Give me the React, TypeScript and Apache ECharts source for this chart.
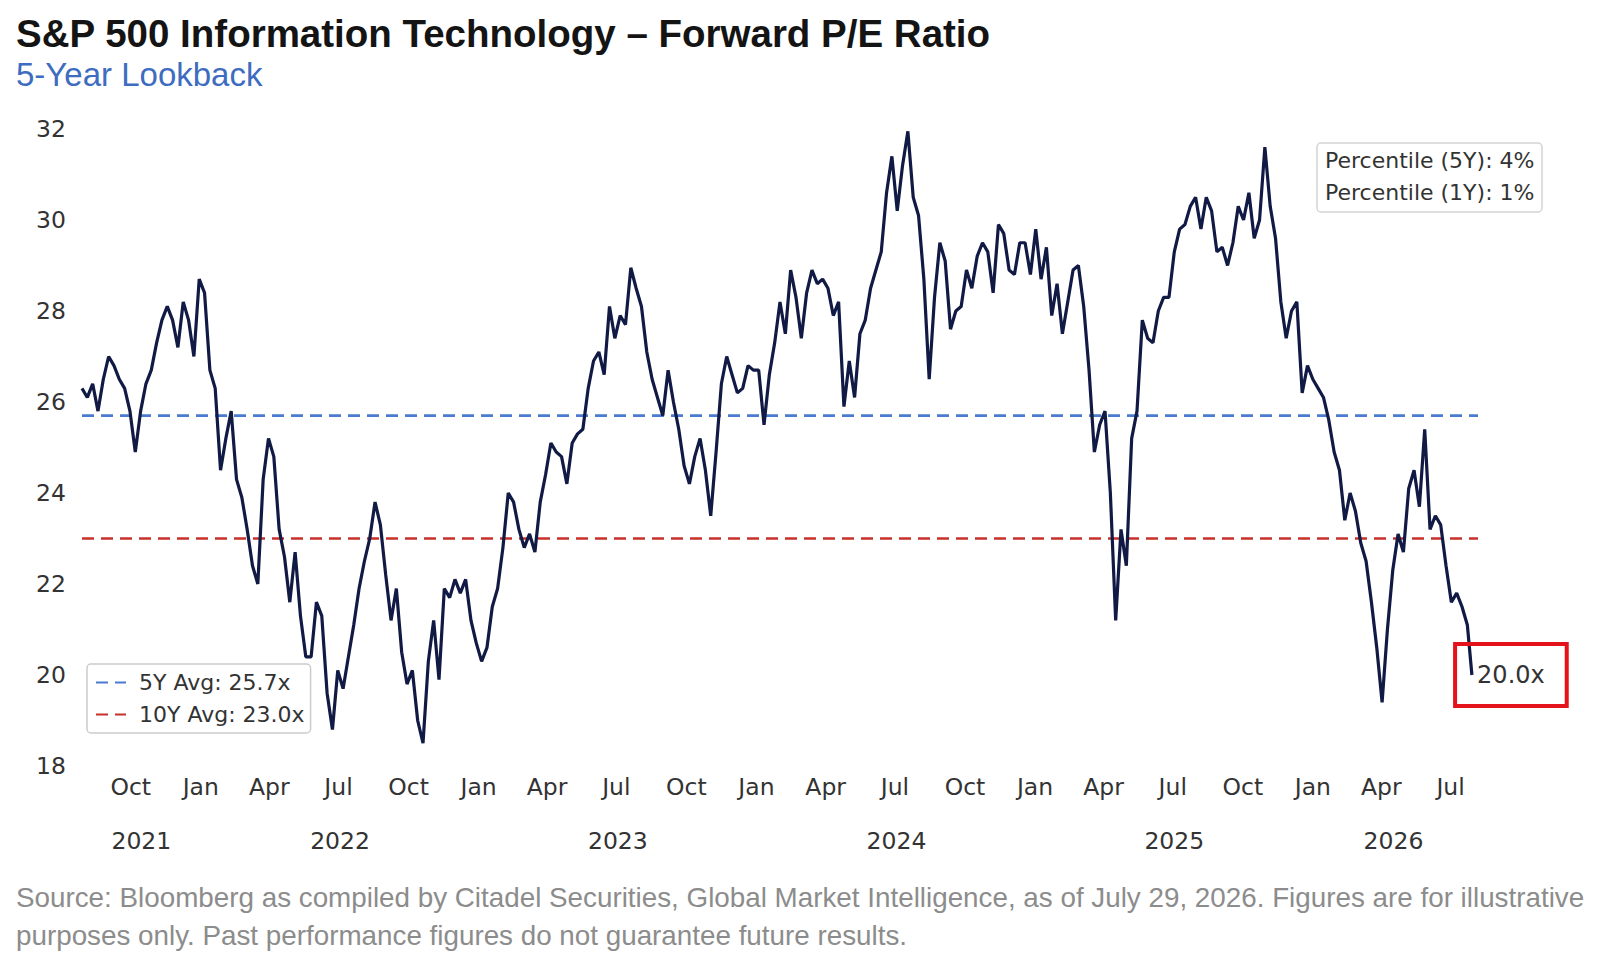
import { useEffect, useRef } from 'react';
import * as echarts from 'echarts';

const START_DATE = '2021-07-29';
const END_DATE = '2026-07-29';
const AXIS_MAX = '2026-08-06';

// weekly forward P/E readings from START_DATE; the last one is END_DATE
const forwardPE = [
  26.3, 26.1, 26.4, 25.8, 26.5, 27.0, 26.8, 26.5, 26.3, 25.8,
  24.9, 25.8, 26.4, 26.7, 27.3, 27.8, 28.1, 27.8, 27.2, 28.2,
  27.8, 27.0, 28.7, 28.4, 26.7, 26.3, 24.5, 25.2, 25.8, 24.3,
  23.9, 23.2, 22.4, 22.0, 24.3, 25.2, 24.8, 23.2, 22.6, 21.6,
  22.7, 21.3, 20.4, 20.4, 21.6, 21.3, 19.6, 18.8, 20.1, 19.7,
  20.4, 21.1, 21.9, 22.5, 23.0, 23.8, 23.3, 22.2, 21.2, 21.9,
  20.5, 19.8, 20.1, 19.0, 18.5, 20.3, 21.2, 19.9, 21.9, 21.7,
  22.1, 21.8, 22.1, 21.2, 20.7, 20.3, 20.6, 21.5, 21.9, 22.8,
  24.0, 23.8, 23.2, 22.8, 23.1, 22.7, 23.8, 24.4, 25.1, 24.9,
  24.8, 24.2, 25.1, 25.3, 25.4, 26.3, 26.9, 27.1, 26.6, 28.1,
  27.4, 27.9, 27.7, 28.95, 28.5, 28.1, 27.1, 26.5, 26.1, 25.7,
  26.7, 26.0, 25.4, 24.6, 24.2, 24.8, 25.2, 24.5, 23.5, 24.9,
  26.4, 27.0, 26.6, 26.2, 26.3, 26.8, 26.7, 26.7, 25.5, 26.6,
  27.3, 28.2, 27.5, 28.9, 28.3, 27.4, 28.4, 28.9, 28.6, 28.7,
  28.5, 27.9, 28.2, 25.9, 26.9, 26.1, 27.5, 27.8, 28.5, 28.9,
  29.3, 30.6, 31.4, 30.2, 31.2, 31.95, 30.5, 30.1, 28.7, 26.5,
  28.3, 29.5, 29.1, 27.6, 28.0, 28.1, 28.9, 28.5, 29.2, 29.5,
  29.3, 28.4, 29.9, 29.7, 28.9, 28.8, 29.5, 29.5, 28.8, 29.8,
  28.7, 29.4, 27.9, 28.6, 27.5, 28.2, 28.9, 29.0, 28.1, 26.7,
  24.9, 25.5, 25.8, 24.0, 21.2, 23.2, 22.4, 25.2, 25.8, 27.8,
  27.4, 27.3, 28.0, 28.3, 28.3, 29.3, 29.8, 29.9, 30.3, 30.5,
  29.8, 30.5, 30.2, 29.3, 29.4, 29.0, 29.5, 30.3, 30.0, 30.6,
  29.6, 30.0, 31.6, 30.3, 29.6, 28.2, 27.4, 28.0, 28.2, 26.2,
  26.8, 26.5, 26.3, 26.1, 25.6, 24.9, 24.5, 23.4, 24.0, 23.6,
  22.9, 22.5, 21.6, 20.6, 19.4, 21.0, 22.3, 23.1, 22.7, 24.1,
  24.5, 23.7, 25.4, 23.2, 23.5, 23.3, 22.4, 21.6, 21.8, 21.5,
  21.1, 20.0,
];

const AVG_5Y = 25.7;
const AVG_10Y = 23.0;
const PCTL_5Y = 4;
const PCTL_1Y = 1;

const monthTicks = [
  '2021-10-01', '2022-01-01', '2022-04-01', '2022-07-01', '2022-10-01',
  '2023-01-01', '2023-04-01', '2023-07-01', '2023-10-01',
  '2024-01-01', '2024-04-01', '2024-07-01', '2024-10-01',
  '2025-01-01', '2025-04-01', '2025-07-01', '2025-10-01',
  '2026-01-01', '2026-04-01', '2026-07-01',
];
const monthNames = ['Jan', 'Feb', 'Mar', 'Apr', 'May', 'Jun', 'Jul', 'Aug', 'Sep', 'Oct', 'Nov', 'Dec'];
// year labels sit in the middle of the part of each year that is shown
const yearLabelDates = ['2021-10-15', '2022-07-03', '2023-07-03', '2024-07-03', '2025-07-03', '2026-04-17'];

const TITLE = 'S&P 500 Information Technology \u2013 Forward P/E Ratio';
const SUBTITLE = '5-Year Lookback';
const SOURCE =
  'Source: Bloomberg as compiled by Citadel Securities, Global Market Intelligence, as of July 29, 2026. Figures are for illustrative\npurposes only. Past performance figures do not guarantee future results.';

const SANS = 'Liberation Sans, Arial, sans-serif';
const MPL = 'DejaVu Sans, sans-serif';
const DAY = 24 * 3600 * 1000;

// dates as UTC midnight timestamps, read back in UTC too
const ts = (d: string) => Date.parse(d + 'T00:00:00Z');

export default function App() {
  const chartRef = useRef<HTMLDivElement>(null);

  useEffect(() => {
    if (!chartRef.current) return;
    const chart = echarts.init(chartRef.current, null, { renderer: 'svg' });

    const t0 = ts(START_DATE);
    const points = forwardPE.map((v, i) => [
      i === forwardPE.length - 1 ? ts(END_DATE) : t0 + i * 7 * DAY,
      v,
    ]);
    const last = points[points.length - 1];
    const xMin = ts(START_DATE);
    const xMax = ts(AXIS_MAX);

    const name5 = `5Y Avg: ${AVG_5Y.toFixed(1)}x`;
    const name10 = `10Y Avg: ${AVG_10Y.toFixed(1)}x`;

    const hidden = { axisLine: { show: false }, axisTick: { show: false }, splitLine: { show: false } };
    const tickText = { fontFamily: MPL, fontSize: 23.5, color: '#333' };

    chart.setOption({
      animation: false,
      backgroundColor: '#fff',
      title: [
        {
          text: TITLE,
          left: 16,
          top: 13,
          padding: 0,
          textStyle: { fontFamily: SANS, fontSize: 38.5, fontWeight: 'bold', color: '#141414', lineHeight: 40 },
        },
        {
          text: SUBTITLE,
          left: 16,
          top: 56,
          padding: 0,
          textStyle: { fontFamily: SANS, fontSize: 33, fontWeight: 'normal', color: '#3d6cc0', lineHeight: 36 },
        },
        {
          text: `Percentile (5Y): ${PCTL_5Y}%\nPercentile (1Y): ${PCTL_1Y}%`,
          left: 1317,
          top: 143,
          padding: [1, 8, 4, 8],
          backgroundColor: 'rgba(255,255,255,0.85)',
          borderColor: '#d4d4d4',
          borderWidth: 1.5,
          borderRadius: 4,
          textStyle: { fontFamily: MPL, fontSize: 22, fontWeight: 'normal', color: '#333', lineHeight: 32 },
        },
        {
          text: SOURCE,
          left: 16,
          top: 878,
          padding: 0,
          textStyle: { fontFamily: SANS, fontSize: 27.8, fontWeight: 'normal', color: '#8c8c8c', lineHeight: 38 },
        },
      ],
      legend: {
        data: [name5, name10],
        orient: 'vertical',
        left: 87,
        top: 664,
        itemWidth: 30,
        itemHeight: 14,
        itemGap: 7,
        padding: [6, 6, 6, 8],
        backgroundColor: 'rgba(255,255,255,0.8)',
        borderColor: '#cccccc',
        borderWidth: 1.5,
        borderRadius: 4,
        selectedMode: false,
        itemStyle: { color: 'transparent', borderColor: 'transparent', borderWidth: 0 },
        textStyle: { fontFamily: MPL, fontSize: 22, color: '#333', lineHeight: 25, padding: [0, 0, 0, 8] },
      },
      grid: { left: 82, right: 128, top: 129, bottom: 200 },
      xAxis: [
        {
          type: 'value',
          min: xMin,
          max: xMax,
          ...hidden,
          axisLabel: {
            ...tickText,
            margin: 9,
            customValues: monthTicks.map(ts),
            formatter: (v: number) => monthNames[new Date(v).getUTCMonth()],
          },
        },
        {
          type: 'value',
          min: xMin,
          max: xMax,
          position: 'bottom',
          ...hidden,
          axisLabel: {
            ...tickText,
            margin: 63,
            customValues: yearLabelDates.map(ts),
            formatter: (v: number) => String(new Date(v).getUTCFullYear()),
          },
        },
      ],
      yAxis: {
        type: 'value',
        min: 18,
        max: 32,
        interval: 2,
        ...hidden,
        axisLabel: { ...tickText, margin: 16 },
      },
      series: [
        {
          name: 'Forward P/E',
          type: 'line',
          data: points,
          showSymbol: false,
          lineStyle: { color: '#101a44', width: 3.2 },
          z: 3,
          markPoint: {
            symbol: 'rect',
            symbolSize: 1,
            itemStyle: { color: 'transparent' },
            data: [{ coord: last }],
            label: {
              show: true,
              position: 'inside',
              offset: [39, 0],
              formatter: `${(last[1] as number).toFixed(1)}x`,
              fontFamily: MPL,
              fontSize: 24,
              color: '#333',
              lineHeight: 26,
              padding: [18, 22, 18, 22],
              borderColor: '#e3121b',
              borderWidth: 4,
            },
          },
        },
        {
          name: name5,
          type: 'line',
          data: [[xMin, AVG_5Y], [xMax, AVG_5Y]],
          showSymbol: false,
          symbol: 'none',
          lineStyle: { color: '#4a7bd0', width: 2.6, type: [12, 7] },
          z: 2,
        },
        {
          name: name10,
          type: 'line',
          data: [[xMin, AVG_10Y], [xMax, AVG_10Y]],
          showSymbol: false,
          symbol: 'none',
          lineStyle: { color: '#c8302c', width: 2.6, type: [12, 7] },
          z: 2,
        },
      ],
    });

    return () => {
      chart.dispose();
    };
  }, []);

  return (
    <div
      ref={chartRef}
      style={{ position: 'fixed', left: 0, top: 0, width: 1606, height: 966, background: '#fff' }}
    />
  );
}
